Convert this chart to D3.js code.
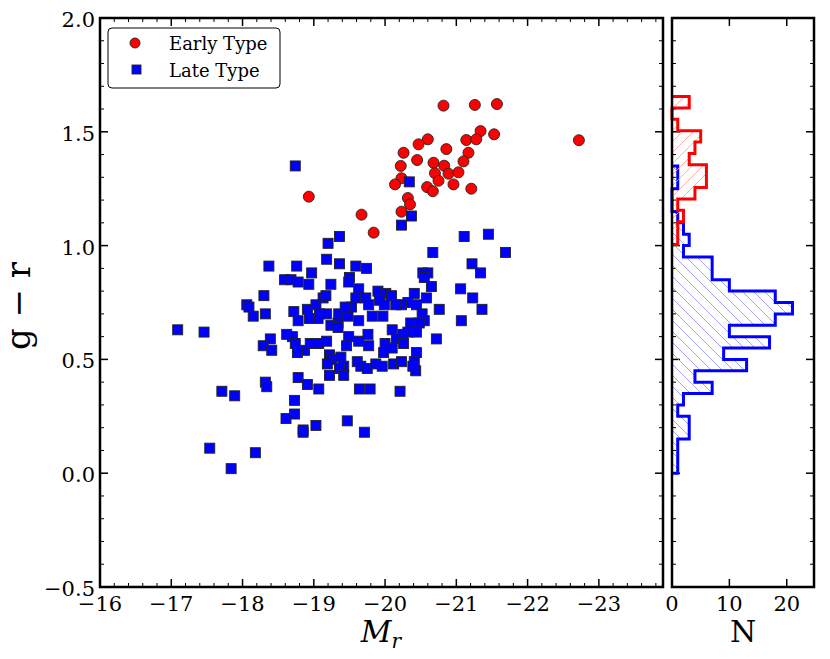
<!DOCTYPE html>
<html>
<head>
<meta charset="utf-8">
<script src="https://cdn.jsdelivr.net/npm/d3@7"></script>
<style>
  body { margin: 0; background: #fff; }
</style>
</head>
<body>
<svg id="chart" width="830" height="659"></svg>
<script>
// ========= Data ========= //
// [M_r, g - r]
const earlyType = [
  [-20.82, 1.615], [-21.26, 1.618], [-21.57, 1.622], [-21.34, 1.503], [-21.53, 1.489],
  [-21.14, 1.464], [-21.28, 1.467], [-20.60, 1.467], [-20.47, 1.445], [-20.86, 1.424],
  [-21.17, 1.408], [-20.26, 1.408], [-20.45, 1.376], [-21.10, 1.370], [-20.68, 1.364],
  [-20.22, 1.350], [-20.83, 1.351], [-20.70, 1.318], [-20.89, 1.316], [-21.03, 1.322],
  [-20.23, 1.296], [-20.75, 1.285], [-20.14, 1.269], [-20.96, 1.269], [-20.59, 1.257],
  [-20.67, 1.239], [-21.21, 1.250], [-20.32, 1.209], [-20.35, 1.181], [-20.23, 1.149],
  [-19.84, 1.057], [-22.72, 1.463], [-18.93, 1.215], [-19.67, 1.136]
];

const lateType = [
  [-18.74, 1.35], [-20.34, 1.28], [-20.37, 1.13], [-20.23, 1.09], [-19.36, 1.04],
  [-19.20, 1.01], [-21.11, 1.04], [-21.45, 1.05], [-20.67, 0.97], [-21.69, 0.97],
  [-21.22, 0.92], [-21.34, 0.88], [-20.53, 0.88], [-20.60, 0.88], [-20.55, 0.86],
  [-19.74, 0.90], [-18.37, 0.91], [-18.76, 0.91], [-19.18, 0.94], [-19.36, 0.92],
  [-19.59, 0.91], [-18.97, 0.88], [-18.59, 0.85], [-18.68, 0.85], [-18.78, 0.84],
  [-18.93, 0.83], [-19.24, 0.83], [-19.50, 0.86], [-19.49, 0.84], [-20.65, 0.82],
  [-18.30, 0.78], [-19.63, 0.81], [-19.59, 0.77], [-19.73, 0.77], [-19.90, 0.80],
  [-20.01, 0.79], [-20.09, 0.78], [-19.92, 0.76], [-19.99, 0.74], [-20.41, 0.79],
  [-20.32, 0.75], [-20.23, 0.74], [-20.15, 0.74], [-20.44, 0.74], [-20.58, 0.77],
  [-21.06, 0.81], [-21.23, 0.77], [-21.36, 0.72], [-20.76, 0.72], [-21.07, 0.67],
  [-18.06, 0.74], [-18.09, 0.73], [-18.15, 0.69], [-18.32, 0.70], [-18.72, 0.71],
  [-18.78, 0.67], [-18.91, 0.72], [-19.03, 0.74], [-19.13, 0.77], [-19.17, 0.78],
  [-19.08, 0.70], [-19.06, 0.68], [-19.18, 0.70], [-18.94, 0.68], [-19.35, 0.70],
  [-19.34, 0.66], [-19.48, 0.69], [-19.53, 0.73], [-19.44, 0.73], [-19.63, 0.67],
  [-19.77, 0.74], [-19.82, 0.69], [-19.97, 0.69], [-19.24, 0.65], [-19.34, 0.64],
  [-20.10, 0.63], [-20.52, 0.70], [-20.55, 0.67], [-20.48, 0.66], [-20.36, 0.66],
  [-20.32, 0.62], [-20.44, 0.62], [-20.25, 0.61], [-20.16, 0.59], [-20.26, 0.57],
  [-20.72, 0.59], [-17.09, 0.63], [-17.46, 0.62], [-18.39, 0.59], [-18.29, 0.56],
  [-18.41, 0.54], [-18.62, 0.61], [-18.70, 0.60], [-18.74, 0.57], [-18.87, 0.54],
  [-18.77, 0.53], [-18.95, 0.57], [-19.07, 0.57], [-19.18, 0.58], [-19.49, 0.60],
  [-19.46, 0.56], [-19.63, 0.58], [-19.61, 0.49], [-19.76, 0.61], [-19.77, 0.56],
  [-20.00, 0.57], [-19.98, 0.53], [-20.10, 0.55], [-20.44, 0.53], [-19.22, 0.52],
  [-19.25, 0.50], [-19.19, 0.48], [-19.38, 0.51], [-19.42, 0.47], [-19.36, 0.46],
  [-19.42, 0.43], [-19.22, 0.43], [-19.66, 0.47], [-19.75, 0.46], [-19.87, 0.48],
  [-19.96, 0.47], [-20.12, 0.48], [-20.23, 0.49], [-20.41, 0.49], [-20.43, 0.45],
  [-20.39, 0.47], [-18.78, 0.42], [-18.91, 0.39], [-18.32, 0.40], [-18.34, 0.38],
  [-19.07, 0.37], [-19.64, 0.37], [-19.79, 0.37], [-20.21, 0.36], [-17.71, 0.36],
  [-17.89, 0.34], [-18.73, 0.32], [-18.73, 0.26], [-18.61, 0.24], [-19.03, 0.21],
  [-18.85, 0.19], [-18.85, 0.18], [-19.47, 0.23], [-19.71, 0.18], [-17.54, 0.11],
  [-18.18, 0.09], [-17.84, 0.02]
];

// histogram of g - r (bins 0.05 wide)
const binWidth = 0.05;
const lateBinStart = 0.0;
const lateCounts = [1, 1, 1, 3, 3, 1, 2, 7, 4, 13, 9, 17, 10, 18, 21, 18, 10, 7, 7, 2, 3, 2, 1, 0, 0, 1, 1];
const earlyBinStart = 1.005;
const earlyCounts = [1, 1, 2, 1, 4, 6, 6, 3, 4, 5, 1, 0, 3];

const xTicks = [-16, -17, -18, -19, -20, -21, -22, -23];
const yTicks = [-0.5, 0.0, 0.5, 1.0, 1.5, 2.0];
const nTicks = [0, 10, 20];

// ========= Setup ========= //
const svg = d3.select('#chart');
const serif = '"DejaVu Serif", serif';
const main = { left: 100, right: 663, top: 18, bottom: 587 };
const side = { left: 672, right: 814 };

const x = d3.scaleLinear().domain([-16, -23.9]).range([main.left, main.right]);
const y = d3.scaleLinear().domain([-0.5, 2.0]).range([main.bottom, main.top]);
const xn = d3.scaleLinear().domain([0, 24.75]).range([side.left, side.right]);

// hatch patterns
const defs = svg.append('defs');
function hatch(id, color, forward) {
  const s = 11;
  const p = defs.append('pattern')
    .attr('id', id)
    .attr('patternUnits', 'userSpaceOnUse')
    .attr('width', s)
    .attr('height', s);
  const segs = forward
    ? [[0, s, s, 0], [-1, 1, 1, -1], [s - 1, s + 1, s + 1, s - 1]]
    : [[0, 0, s, s], [-1, s - 1, 1, s + 1], [s - 1, -1, s + 1, 1]];
  segs.forEach(d => p.append('line')
    .attr('x1', d[0]).attr('y1', d[1]).attr('x2', d[2]).attr('y2', d[3])
    .attr('stroke', color).attr('stroke-width', 0.8));
}
hatch('hatch-red', '#ff9a9a', true);
hatch('hatch-blue', '#8c8cff', false);

// ========= Axes helper ========= //
function addAxis(g, scale, orient, ticks, minor, fmt, a0) {
  const len = 8, mlen = 4;
  const horizontal = orient === 'bottom' || orient === 'top';
  const inward = (orient === 'bottom' || orient === 'right') ? -1 : 1;
  minor.forEach(v => {
    const p = scale(v);
    g.append('line')
      .attr(horizontal ? 'x1' : 'y1', p).attr(horizontal ? 'x2' : 'y2', p)
      .attr(horizontal ? 'y1' : 'x1', a0).attr(horizontal ? 'y2' : 'x2', a0 + inward * mlen)
      .attr('stroke', '#000').attr('stroke-width', 1);
  });
  ticks.forEach(v => {
    const p = scale(v);
    g.append('line')
      .attr(horizontal ? 'x1' : 'y1', p).attr(horizontal ? 'x2' : 'y2', p)
      .attr(horizontal ? 'y1' : 'x1', a0).attr(horizontal ? 'y2' : 'x2', a0 + inward * len)
      .attr('stroke', '#000').attr('stroke-width', 1.5);
    if (fmt) {
      const t = g.append('text')
        .attr('font-family', serif)
        .attr('font-size', '21px')
        .attr('fill', '#000')
        .text(fmt(v));
      if (orient === 'bottom') {
        t.attr('x', p).attr('y', a0 + 24).attr('text-anchor', 'middle');
      } else if (orient === 'left') {
        t.attr('x', a0 - 5).attr('y', p + 9).attr('text-anchor', 'end');
      }
    }
  });
}

const axes = svg.append('g').attr('class', 'axes');

// main panel ticks
const xMinor = d3.range(-16, -23.91, -0.2).filter(v => Math.abs(v - Math.round(v)) > 1e-6);
const yMinor = d3.range(-0.5, 2.01, 0.1).filter(v => Math.abs(v * 2 - Math.round(v * 2)) > 1e-6);
addAxis(axes, x, 'bottom', xTicks, xMinor, d3.format('d'), main.bottom);
addAxis(axes, x, 'top', xTicks, xMinor, null, main.top);
addAxis(axes, y, 'left', yTicks, yMinor, d3.format('.1f'), main.left);
addAxis(axes, y, 'right', yTicks, yMinor, null, main.right);

// side panel ticks
addAxis(axes, xn, 'bottom', nTicks, [], d3.format('d'), main.bottom);
addAxis(axes, xn, 'top', nTicks, [], null, main.top);
addAxis(axes, y, 'left', yTicks, yMinor, null, side.left);
addAxis(axes, y, 'right', yTicks, yMinor, null, side.right);

// ========= Histograms ========= //
function stepPath(start, counts) {
  const pts = [[0, start]];
  counts.forEach((c, i) => {
    pts.push([c, start + i * binWidth]);
    pts.push([c, start + (i + 1) * binWidth]);
  });
  pts.push([0, start + counts.length * binWidth]);
  return d3.line().x(d => xn(d[0])).y(d => y(d[1]))(pts);
}

const hist = svg.append('g').attr('class', 'hist');
hist.append('path')
  .attr('d', stepPath(lateBinStart, lateCounts))
  .attr('fill', 'url(#hatch-blue)')
  .attr('stroke', '#0000ff')
  .attr('stroke-width', 3)
  .attr('stroke-linejoin', 'miter');
hist.append('path')
  .attr('d', stepPath(earlyBinStart, earlyCounts))
  .attr('fill', 'url(#hatch-red)')
  .attr('stroke', '#ff0000')
  .attr('stroke-width', 3)
  .attr('stroke-linejoin', 'miter');

// ========= Scatter ========= //
const sq = 10;
svg.append('g')
  .attr('class', 'early')
  .selectAll('circle')
  .data(earlyType)
  .join('circle')
    .attr('cx', d => x(d[0]))
    .attr('cy', d => y(d[1]))
    .attr('r', 5.5)
    .attr('fill', '#ff0000')
    .attr('stroke', '#222')
    .attr('stroke-width', 0.9);

svg.append('g')
  .attr('class', 'late')
  .selectAll('rect')
  .data(lateType)
  .join('rect')
    .attr('x', d => x(d[0]) - sq / 2)
    .attr('y', d => y(d[1]) - sq / 2)
    .attr('width', sq)
    .attr('height', sq)
    .attr('fill', '#0000ff')
    .attr('stroke', '#222')
    .attr('stroke-width', 0.9);

// ========= Frames ========= //
svg.append('rect')
  .attr('x', main.left).attr('y', main.top)
  .attr('width', main.right - main.left).attr('height', main.bottom - main.top)
  .attr('fill', 'none').attr('stroke', '#000').attr('stroke-width', 2.5);
svg.append('rect')
  .attr('x', side.left).attr('y', main.top)
  .attr('width', side.right - side.left).attr('height', main.bottom - main.top)
  .attr('fill', 'none').attr('stroke', '#000').attr('stroke-width', 2.5);

// ========= Legend ========= //
const legend = svg.append('g').attr('class', 'legend');
legend.append('rect')
  .attr('x', 108).attr('y', 28).attr('width', 172).attr('height', 60)
  .attr('rx', 4)
  .attr('fill', '#fff').attr('stroke', '#000').attr('stroke-width', 1);
legend.append('circle')
  .attr('cx', 135).attr('cy', 43).attr('r', 5)
  .attr('fill', '#ff0000').attr('stroke', '#222').attr('stroke-width', 0.9);
legend.append('rect')
  .attr('x', 132).attr('y', 65).attr('width', 9).attr('height', 9)
  .attr('fill', '#0000ff').attr('stroke', '#222').attr('stroke-width', 0.9);
legend.selectAll('text.lab')
  .data(['Early Type', 'Late Type'])
  .join('text')
    .attr('class', 'lab')
    .attr('x', 169)
    .attr('y', (d, i) => 50 + i * 27)
    .attr('font-family', serif)
    .attr('font-size', '18px')
    .text(d => d);

// ========= Axis titles ========= //
svg.append('text')
  .attr('transform', 'translate(30 306) rotate(-90)')
  .attr('text-anchor', 'middle')
  .attr('font-family', serif)
  .attr('font-size', '34px')
  .text('g \u2212 r');

const xl = svg.append('text')
  .attr('x', 381).attr('y', 642)
  .attr('text-anchor', 'middle')
  .attr('font-family', serif)
  .attr('font-size', '30px')
  .attr('font-style', 'italic');
xl.append('tspan').text('M');
xl.append('tspan').attr('font-size', '20px').attr('dy', 6).text('r');

svg.append('text')
  .attr('x', 743).attr('y', 642)
  .attr('text-anchor', 'middle')
  .attr('font-family', serif)
  .attr('font-size', '30px')
  .text('N');
</script>
</body>
</html>
